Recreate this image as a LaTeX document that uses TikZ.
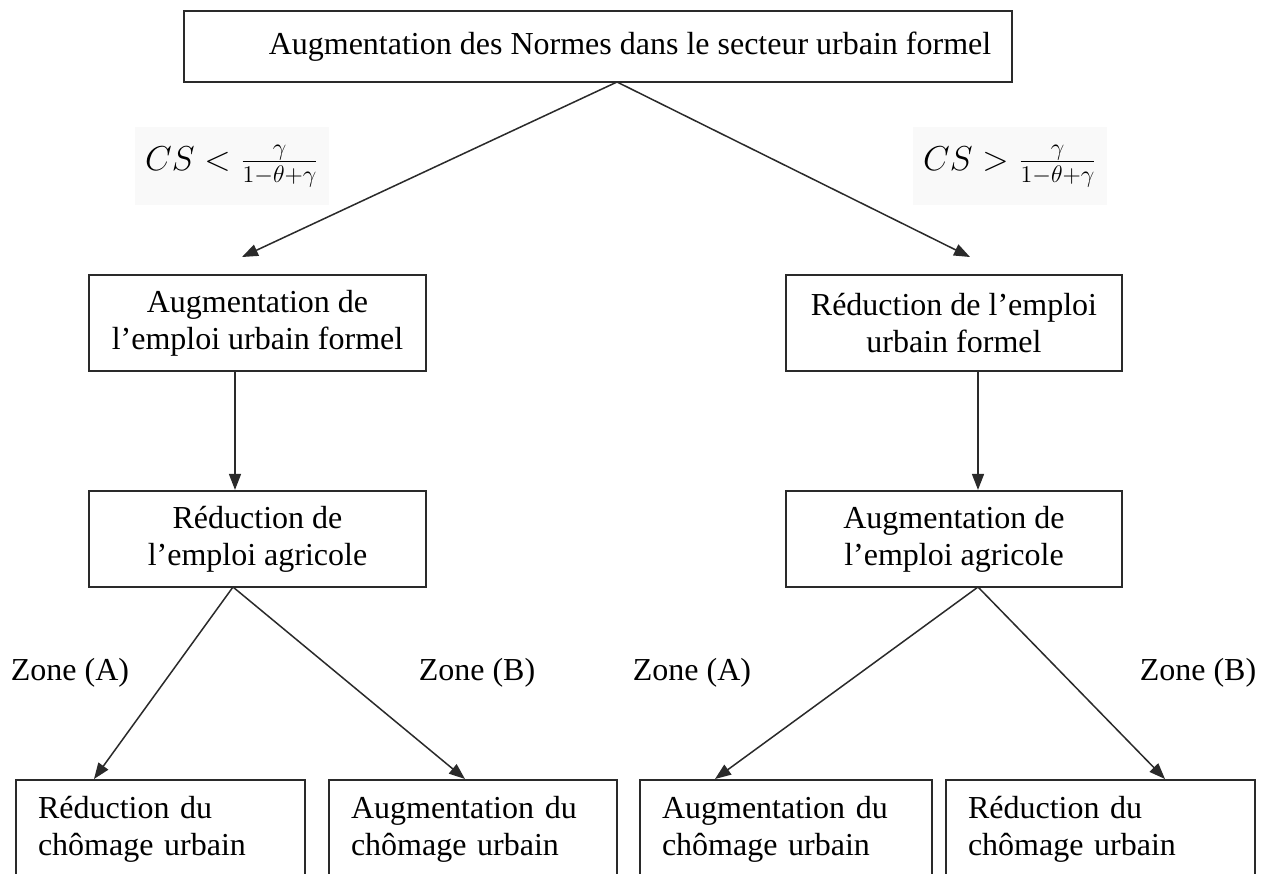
\documentclass[tikz,border=0pt]{standalone}
\usepackage{fontspec}
\setmainfont{Liberation Serif}
\usetikzlibrary{arrows.meta}
\definecolor{linegray}{HTML}{2A2A2A}
\definecolor{fbg}{HTML}{F9F9F9}
\tikzset{
  box/.style={draw=linegray, line width=1.1pt, fill=white, inner sep=0pt, align=center,
    font=\fontsize{16}{18.5}\selectfont},
  bbox/.style={draw=linegray, line width=1.1pt, fill=white, inner xsep=11pt, inner ysep=0pt,
    align=left, font=\fontsize{16}{18.5}\selectfont},
  arr/.style={draw=linegray, line width=0.75pt, -{Triangle[length=8pt,width=6pt]}},
  zlabel/.style={inner sep=0pt, font=\fontsize{16}{18.5}\selectfont},
  formula/.style={fill=fbg, inner xsep=5pt, inner ysep=9pt, font=\fontsize{18}{20}\selectfont}
}
\begin{document}
\begin{tikzpicture}[x=0.5pt,y=-0.5pt]
\useasboundingbox (0,0) rectangle (1268,873);
\clip (0,0) rectangle (1268,873);
\fill[white] (0,0) rectangle (1268,873);

% boxes
\node[box, minimum width=414pt, minimum height=35.5pt] (top) at (598,46.5)
  {\hspace*{32pt}Augmentation des Normes dans le secteur urbain formel};
\node[box, minimum width=168.5pt, minimum height=48pt] (l2) at (257.5,323)
  {Augmentation de\\l’emploi urbain formel};
\node[box, minimum width=168.5pt, minimum height=48pt] (l3) at (257.5,539)
  {Réduction de\\l’emploi agricole};
\node[box, minimum width=168pt, minimum height=48pt] (r2) at (954,323)
  {Réduction de l’emploi\\urbain formel};
\node[box, minimum width=168pt, minimum height=48pt] (r3) at (954,539)
  {Augmentation de\\l’emploi agricole};

\node[bbox, minimum width=144.5pt, text width=122.5pt, minimum height=49pt] (b1) at (160.5,829)
  {Réduction du\\chômage urbain};
\node[bbox, minimum width=144pt, text width=122pt, minimum height=49pt] (b2) at (473,829)
  {Augmentation du\\chômage urbain};
\node[bbox, minimum width=146pt, text width=124pt, minimum height=49pt] (b3) at (786,829)
  {Augmentation du\\chômage urbain};
\node[bbox, minimum width=154.5pt, text width=132.5pt, minimum height=49pt] (b4) at (1100.5,829)
  {Réduction du\\chômage urbain};

% labels
\node[formula] (csl) at (232,166) {$CS < \frac{\gamma}{1-\theta+\gamma}$};
\node[formula] (csr) at (1010,166) {$CS > \frac{\gamma}{1-\theta+\gamma}$};
\node[zlabel] (za1) at (70,673) {Zone (A)};
\node[zlabel] (zb1) at (477,673) {Zone (B)};
\node[zlabel] (za2) at (692,673) {Zone (A)};
\node[zlabel] (zb2) at (1198,673) {Zone (B)};

% connector end points
\coordinate (topapex) at (617,82);
\coordinate (tipl2) at (242,257);
\coordinate (tipr2) at (970,257);
\coordinate (l2out) at (235,371);
\coordinate (r2out) at (978,371);
\coordinate (l3apex) at (233,587);
\coordinate (r3apex) at (978,587);
\coordinate (tipb1) at (94,779);
\coordinate (tipb2) at (465,779);
\coordinate (tipb3) at (715,779);
\coordinate (tipb4) at (1165,779);

% connectors
\draw[arr] (topapex) -- (tipl2);
\draw[arr] (topapex) -- (tipr2);
\draw[arr] (l2out) -- (l2out |- l3.north);
\draw[arr] (r2out) -- (r2out |- r3.north);
\draw[arr] (l3apex) -- (tipb1);
\draw[arr] (l3apex) -- (tipb2);
\draw[arr] (r3apex) -- (tipb3);
\draw[arr] (r3apex) -- (tipb4);
\end{tikzpicture}
\end{document}
